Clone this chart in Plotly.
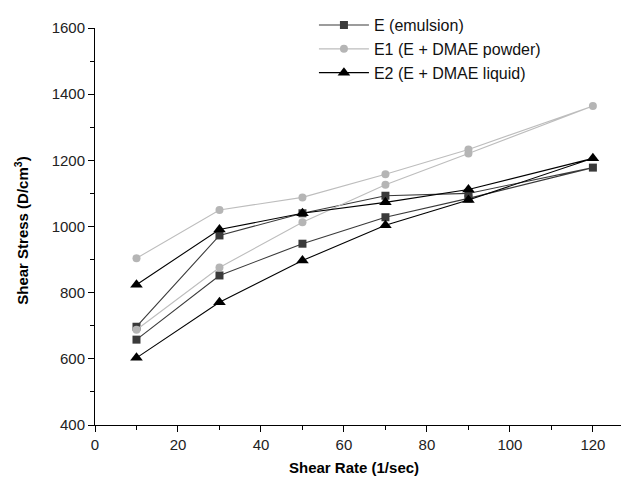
import plotly.graph_objects as go

# Shear rate (1/sec): up curve then down curve
rate_up = [10, 30, 50, 70, 90, 120]
rate_down = [120, 90, 70, 50, 30, 10]

# Shear stress (D/cm^3)
E_up = [658, 852, 948, 1028, 1085, 1178]
E_down = [1178, 1100, 1093, 1040, 973, 697]
E1_up = [688, 876, 1013, 1126, 1221, 1364]
E1_down = [1364, 1233, 1158, 1088, 1050, 904]
E2_up = [603, 771, 897, 1004, 1080, 1206]
E2_down = [1206, 1112, 1073, 1040, 991, 824]

names = ["E (emulsion)", "E1 (E + DMAE powder)", "E2 (E + DMAE liquid)"]

x_ticks = [0, 20, 40, 60, 80, 100, 120]
y_ticks = [400, 600, 800, 1000, 1200, 1400, 1600]

FONT = "Liberation Sans, Arial, sans-serif"

series = [
    (names[0], E_up, E_down, "#3a3a3a", "#3a3a3a", "square", 8),
    (names[1], E1_up, E1_down, "#bdbdbd", "#b5b5b5", "circle", 8),
    (names[2], E2_up, E2_down, "#000000", "#000000", "triangle-up", 11),
]

fig = go.Figure()
for name, up, down, lc, mc, sym, ms in series:
    fig.add_trace(go.Scatter(
        x=rate_up + rate_down[1:],
        y=up + down[1:],
        mode="lines+markers",
        name=name,
        line=dict(color=lc, width=1.1),
        marker=dict(symbol=sym, size=ms, color=mc, line=dict(width=0)),
    ))

fig.update_layout(
    width=621, height=477,
    margin=dict(l=87, r=0, t=16, b=60),
    paper_bgcolor="white", plot_bgcolor="white",
    font=dict(family=FONT, color="#222222"),
    showlegend=True,
    legend=dict(
        x=0.41, y=1.05, xanchor="left", yanchor="top",
        font=dict(size=16, family=FONT, color="#111111"),
        bgcolor="rgba(0,0,0,0)", itemwidth=50, tracegroupgap=0,
    ),
    xaxis=dict(
        range=[0, 128.7], tickvals=x_ticks, ticktext=[str(v) for v in x_ticks],
        showline=True, linecolor="black", linewidth=1, mirror=False,
        ticks="outside", ticklen=6, tickcolor="black",
        minor=dict(dtick=10, tick0=0, ticks="outside", ticklen=4, tickcolor="black"),
        showgrid=False, zeroline=False,
        tickfont=dict(size=15, family=FONT, color="#222222"),
    ),
    yaxis=dict(
        range=[400, 1600], tickvals=y_ticks, ticktext=[str(v) for v in y_ticks],
        showline=True, linecolor="black", linewidth=1, mirror=False,
        ticks="outside", ticklen=6, tickcolor="black",
        minor=dict(dtick=100, tick0=0, ticks="outside", ticklen=4, tickcolor="black"),
        showgrid=False, zeroline=False,
        tickfont=dict(size=15, family=FONT, color="#222222"),
    ),
    annotations=[
        dict(text="<b>Shear Rate (1/sec)</b>", xref="paper", yref="paper",
             x=0.485, y=-0.108, xanchor="center", yanchor="middle", showarrow=False,
             font=dict(size=15, family=FONT, color="black")),
        dict(text="<b>Shear Stress (D/cm<sup>3</sup>)</b>", xref="paper", yref="paper",
             x=-0.138, y=0.49, xanchor="center", yanchor="middle", textangle=-90,
             showarrow=False, font=dict(size=15, family=FONT, color="black")),
    ],
)

fig.write_html("out.html")
